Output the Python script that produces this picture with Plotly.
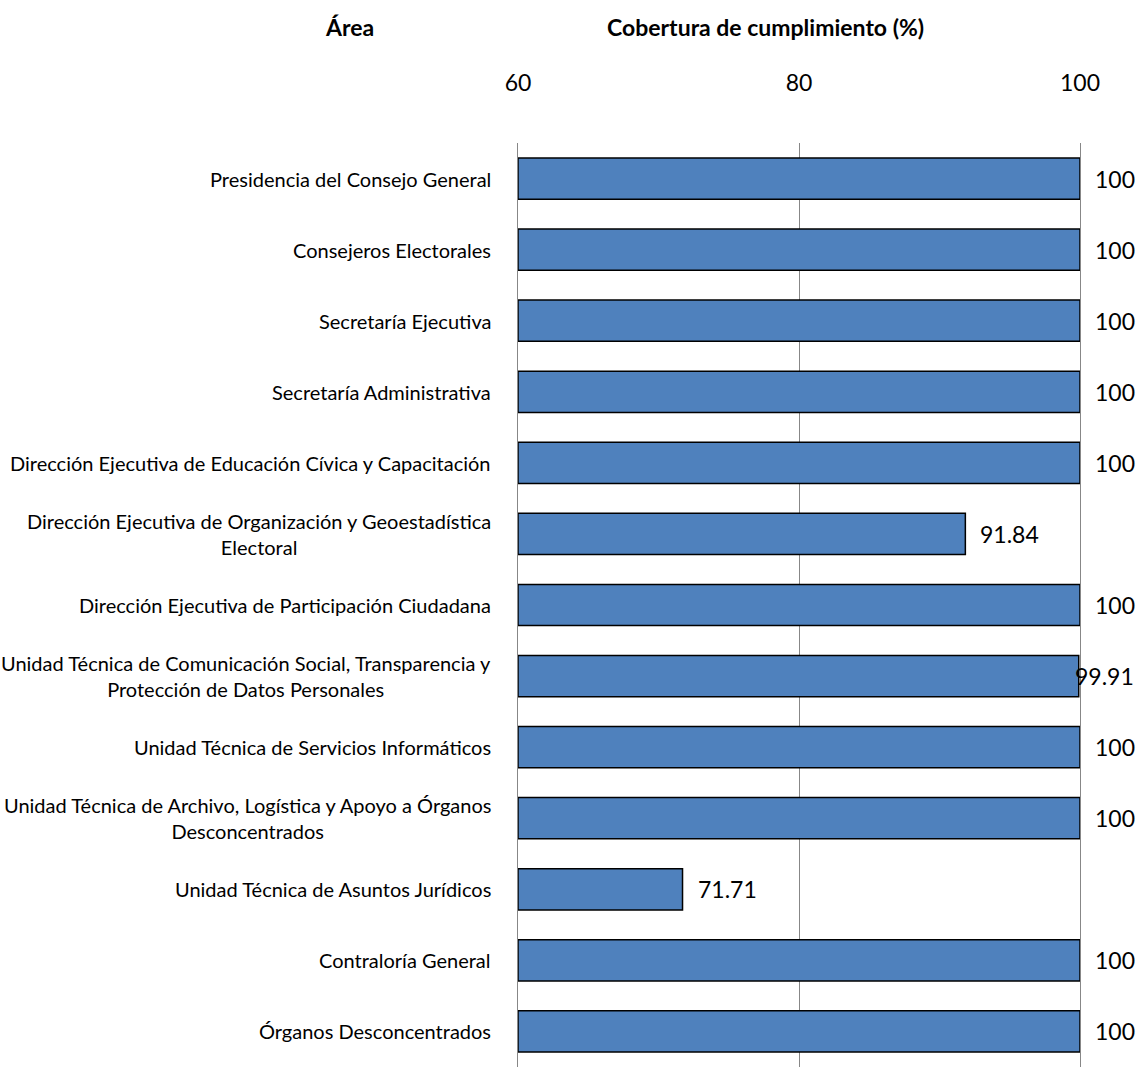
import plotly.graph_objects as go

# Areas, top to bottom as shown
areas = [
    "Presidencia del Consejo General",
    "Consejeros Electorales",
    "Secretaría Ejecutiva",
    "Secretaría Administrativa",
    "Dirección Ejecutiva de Educación Cívica y Capacitación",
    "Dirección Ejecutiva de Organización y Geoestadística<br>Electoral",
    "Dirección Ejecutiva de Participación Ciudadana",
    "Unidad Técnica de Comunicación Social, Transparencia y<br>Protección de Datos Personales",
    "Unidad Técnica de Servicios Informáticos",
    "Unidad Técnica de Archivo, Logística y Apoyo a Órganos<br>Desconcentrados",
    "Unidad Técnica de Asuntos Jurídicos",
    "Contraloría General",
    "Órganos Desconcentrados",
]
coverage = [100, 100, 100, 100, 100, 91.84, 100, 99.91, 100, 100, 71.71, 100, 100]
x_ticks = [60, 80, 100]

FONT = "Lato"
GRID = "#878787"
ids = list(range(len(areas)))

fig = go.Figure()
fig.add_trace(go.Bar(
    x=[v - 60 for v in coverage], base=60, y=ids, orientation="h",
    marker=dict(color="#4F81BD", line=dict(color="#000000", width=1.5)),
    width=0.58, hoverinfo="skip",
))

annotations = []
for i, (name, v) in enumerate(zip(areas, coverage)):
    annotations.append(dict(
        x=0, xref="paper", y=i, yref="y", text=name, showarrow=False,
        xanchor="right", yanchor="middle", align="center", xshift=-25,
        font=dict(family=FONT, size=20, color="#000000"),
    ))
    label = f"{v:g}"
    # 99.91 gets pulled back so it stays inside the canvas
    shift = -6 if 99 < v < 100 else 13
    annotations.append(dict(
        x=v, xref="x", y=i, yref="y", text=label, showarrow=False,
        xanchor="left", yanchor="middle", xshift=shift,
        font=dict(family=FONT, size=23, color="#000000"),
    ))

annotations.append(dict(
    x=-0.299, xref="paper", y=1.126, yref="paper", text="<b>Área</b>",
    showarrow=False, xanchor="center", yanchor="middle",
    font=dict(family=FONT, size=23, color="#000000"),
))
annotations.append(dict(
    x=0.441, xref="paper", y=1.126, yref="paper",
    text="<b>Cobertura de cumplimiento (%)</b>",
    showarrow=False, xanchor="center", yanchor="middle",
    font=dict(family=FONT, size=23, color="#000000"),
))

fig.update_layout(
    width=1136, height=1067,
    margin=dict(l=518, r=56, t=143, b=0),
    paper_bgcolor="white", plot_bgcolor="white",
    showlegend=False, bargap=0.42,
    annotations=annotations,
    font=dict(family=FONT, color="#000000"),
)
fig.update_xaxes(
    range=[60, 100], side="top", tickvals=x_ticks,
    tickfont=dict(family=FONT, size=23, color="#000000"),
    showgrid=True, gridcolor=GRID, gridwidth=1,
    zeroline=False, showline=False, ticks="", ticklabelstandoff=46,
)
fig.update_yaxes(
    range=[len(areas) - 0.5, -0.5], showticklabels=False, showgrid=False,
    zeroline=False, showline=True, linecolor=GRID, linewidth=1, mirror=True,
    ticks="",
)

fig.write_html("out.html", config={"displayModeBar": False},
               post_script="document.body.style.margin='0';")
